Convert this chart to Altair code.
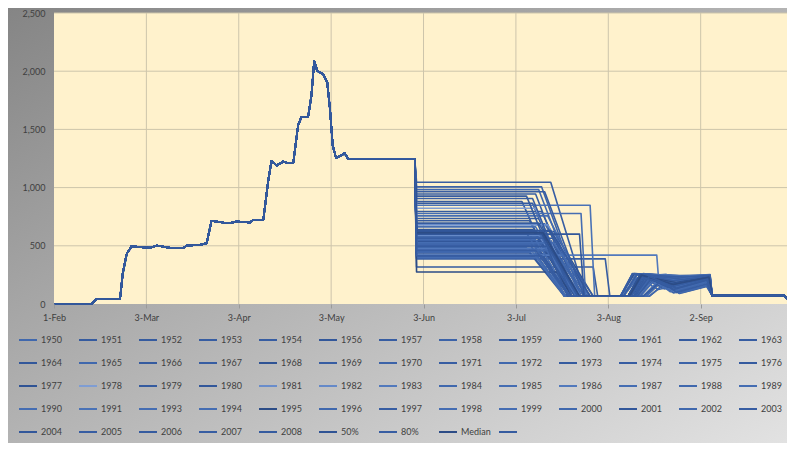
import altair as alt
import pandas as pd

# ---------------- data ----------------
# shared part of every series (days since 1-Feb, value)
COMMON_DAYS = [0, 12.4, 14.1, 21.8, 22.7, 24.0, 25.6, 31.7, 33.9, 38.3, 42.7, 43.9, 48.2, 50.4,
               52.0, 55.9, 58.1, 60.3, 64.7, 65.8, 69.1, 70.7, 71.8, 73.5, 75.7, 77.3, 79.0,
               80.6, 81.7, 83.9, 85.0, 85.9, 86.9, 88.9, 90.2, 91.1, 92.0, 93.1, 96.0, 97.1, 119.1]
COMMON_VALUES = [0, 0, 42, 45, 261, 431, 496, 482, 502, 482, 482, 502, 508, 523,
                 714, 700, 695, 709, 700, 723, 723, 1054, 1230, 1190, 1224, 1210, 1215,
                 1536, 1607, 1607, 1792, 2089, 2004, 1975, 1905, 1678, 1366, 1253, 1295, 1247, 1247]

SERIES = ["1950", "1951", "1952", "1953", "1954", "1956", "1957", "1958", "1959", "1960",
          "1961", "1962", "1963", "1964", "1965", "1966", "1967", "1968", "1969", "1970",
          "1971", "1972", "1973", "1974", "1975", "1976", "1977", "1978", "1979", "1980",
          "1981", "1982", "1983", "1984", "1985", "1986", "1987", "1988", "1989", "1990",
          "1991", "1993", "1994", "1995", "1996", "1997", "1998", "1999", "2000", "2001",
          "2002", "2003", "2004", "2005", "2006", "2007", "2008", "50%", "80%", "Median", " "]

PLATEAU_DAY = 119.7
LEVEL = [615, 880, 520, 465, 1046, 560, 735, 430, 600, 690,
         500, 318, 945, 575, 482, 795, 408, 640, 545, 1006,
         455, 585, 715, 388, 508, 865, 623, 822, 440, 535,
         680, 592, 420, 983, 553, 475, 757, 609, 398, 525,
         848, 663, 490, 275, 572, 907, 448, 777, 515, 630,
         458, 964, 600, 415, 695, 565, 927, 610, 460, 612, 495]
HOLD_END = [159, 154.5, 161, 162, 164, 158, 160, 163, 157, 162,
            159, 178, 159, 163, 156, 161, 164, 158, 164, 161,
            160, 162, 157, 182, 163, 158, 165, 159, 157, 161,
            163, 160, 199, 160, 159, 164, 163, 156, 160, 165,
            177, 159, 162, 166, 161, 158, 158, 174, 157, 164,
            165, 162, 173.5, 161, 160, 165, 156, 161, 159, 161.5, 163]
LOW_DAY = [173, 168.5, 171, 172, 175.5, 170, 173, 172, 170, 176,
           169, 179.5, 172, 175, 169, 174, 173, 171, 177, 174,
           170, 176, 171, 183.5, 174, 171, 178, 172, 168.5, 172,
           177, 173, 199.5, 173.5, 170.5, 174, 176.5, 169, 169, 177,
           178.5, 172.5, 172.5, 171, 173, 171, 168.5, 175.5, 168.5, 177,
           175, 175, 175, 170.5, 173.5, 178, 169.5, 173, 170, 173.5, 173]
LOW_VALUE = [66, 66, 66, 66, 68, 66, 66, 66, 66, 68,
             66, 68, 66, 66, 66, 66, 66, 66, 68, 66,
             66, 66, 66, 70, 66, 66, 68, 66, 66, 66,
             68, 66, 250, 66, 66, 66, 68, 66, 66, 68,
             68, 66, 66, 66, 66, 66, 66, 68, 66, 68,
             66, 66, 68, 66, 66, 68, 66, 66, 66, 66, 66]
RISE_DAY = [189.5, 187, 191.5, 188, 190.5, 192.5, 187, 194.5, 189.5, 191.5,
            193.5, 190.5, 188, 195.5, 187, 189.5, 196.5, 190.5, 192.5, 187,
            194.5, 188, 191.5, 191.5, 189.5, 192.5, 187, 193.5, 190.5, 191.5,
            188, 194.5, 200, 189.5, 195.5, 190.5, 187, 192.5, 193.5, 188,
            189.5, 194.5, 191.5, 189.5, 196.5, 190.5, 192.5, 188, 193.5, 189.5,
            191.5, 187, 190.5, 194.5, 191.5, 188, 192.5, 189.5, 190.5, 190, 191.5]
PEAK_DAY = [193.5, 191.5, 197.5, 192.5, 194.5, 198.5, 191, 199.5, 195.5, 194.5,
            198.5, 194.5, 192, 200.5, 192.5, 193.5, 201.5, 196.5, 195.5, 191.5,
            200.5, 193.5, 196.5, 196.5, 194.5, 197.5, 191.5, 198.5, 195.5, 197.5,
            192.5, 199.5, 202, 193.5, 200, 194.5, 191, 196.5, 197.5, 192.5,
            193.5, 199.5, 195.5, 193.5, 201.5, 194.5, 197.5, 192.5, 198.5, 193.5,
            196.5, 191, 194.5, 200.5, 195.5, 192.5, 197.5, 193.5, 194.5, 194, 196.5]
PEAK = [240, 255, 200, 250, 260, 230, 258, 180, 245, 262,
        210, 235, 252, 190, 225, 248, 170, 238, 255, 260,
        205, 250, 243, 220, 256, 235, 262, 215, 240, 228,
        258, 200, 255, 252, 185, 245, 262, 230, 220, 254,
        250, 195, 240, 248, 175, 253, 232, 256, 215, 250,
        238, 260, 245, 198, 242, 257, 226, 250, 240, 248, 236]
DIP_DAY = [201.5, 204.5, 205.5, 200.5, 207.5, 203.5, 206.5, 204.5, 202.5, 208.5,
           206.5, 201.5, 205.5, 207.5, 199.5, 203.5, 206.5, 204.5, 209.5, 206.5,
           205.5, 201.5, 204.5, 203.5, 207.5, 205.5, 208.5, 204.5, 202.5, 206.5,
           207.5, 205.5, 207.5, 204.5, 206.5, 201.5, 208.5, 204.5, 203.5, 206.5,
           203.5, 206.5, 202.5, 205.5, 207.5, 204.5, 203.5, 207.5, 205.5, 201.5,
           204.5, 207.5, 203.5, 205.5, 202.5, 208.5, 204.5, 204.5, 203.5, 204.5, 205.5]
DIP = [130, 180, 110, 150, 240, 120, 200, 95, 140, 220,
       100, 160, 210, 115, 125, 170, 90, 135, 230, 245,
       105, 155, 150, 120, 190, 140, 235, 115, 165, 125,
       215, 100, 180, 195, 110, 145, 240, 130, 105, 205,
       175, 95, 150, 185, 100, 200, 120, 225, 110, 160,
       140, 230, 155, 100, 145, 210, 125, 170, 150, 168, 135]
FALL_DAY = [216, 216.4, 215.6, 216.5, 216.5, 215.5, 216.4, 215.5, 216, 216.6,
            215.6, 216, 216.4, 215.5, 216, 216.4, 215.5, 215.8, 216.6, 216.5,
            215.5, 216.2, 216, 215.6, 216.4, 215.8, 216.6, 215.5, 216.2, 215.6,
            216.5, 215.5, 216.2, 216.4, 215.5, 216, 216.6, 215.8, 215.5, 216.5,
            216.2, 215.5, 216, 216.4, 215.5, 216.4, 215.6, 216.5, 215.5, 216,
            215.8, 216.5, 216, 215.5, 216, 216.5, 215.6, 216.2, 216, 216.2, 215.6]
FALL_VALUE = [220, 235, 200, 230, 240, 180, 250, 160, 225, 245,
              190, 230, 238, 170, 215, 232, 150, 210, 240, 248,
              185, 228, 222, 205, 236, 215, 250, 195, 232, 205,
              244, 175, 230, 240, 165, 225, 252, 212, 190, 238,
              230, 170, 222, 235, 155, 242, 200, 246, 185, 226,
              218, 246, 228, 172, 224, 242, 205, 232, 225, 230, 210]
END_DAYS = [217.3, 241.2, 242.0]
END_VALUES = [72, 72, 45]

COLORS = ["#4068ad", "#355b9f", "#355b9f", "#375da2", "#375da2", "#32579a", "#375da2", "#3c63a8", "#355b9f", "#4068ad",
          "#3c63a8", "#355b9f", "#375da2", "#32579a", "#4068ad", "#355b9f", "#375da2", "#2f5394", "#375da2", "#3c63a8",
          "#375da2", "#4068ad", "#355b9f", "#375da2", "#3c63a8", "#355b9f", "#2f5394", "#7f9dd3", "#355b9f", "#32579a",
          "#6a8dcb", "#6589c8", "#5279bc", "#4068ad", "#456db2", "#5279bc", "#456db2", "#4068ad", "#456db2", "#456db2",
          "#4a72b6", "#456db2", "#456db2", "#2c4c86", "#4068ad", "#375da2", "#456db2", "#456db2", "#4068ad", "#32579a",
          "#4068ad", "#375da2", "#32579a", "#375da2", "#355b9f", "#375da2", "#355b9f", "#2f5394", "#375da2", "#2c4c86",
          "#355b9f"]

TICK_DAYS = [0, 30.5, 61, 91.5, 122, 152.5, 183, 213.5]
TICK_LABELS = ["1-Feb", "3-Mar", "3-Apr", "3-May", "3-Jun", "3-Jul", "3-Aug", "2-Sep"]
Y_TICKS = [0, 500, 1000, 1500, 2000, 2500]

# ---------------- build table ----------------
rows = []
for i, name in enumerate(SERIES):
    pts = list(zip(COMMON_DAYS, COMMON_VALUES))
    pts += [(PLATEAU_DAY, LEVEL[i]), (HOLD_END[i], LEVEL[i]), (LOW_DAY[i], LOW_VALUE[i]),
            (RISE_DAY[i], LOW_VALUE[i]), (PEAK_DAY[i], PEAK[i]), (DIP_DAY[i], DIP[i]),
            (FALL_DAY[i], FALL_VALUE[i])]
    pts += list(zip(END_DAYS, END_VALUES))
    for k, (d, v) in enumerate(pts):
        rows.append({"series": name, "day": d, "value": v, "k": k})
df = pd.DataFrame(rows)

W, H = 733, 291
PAD_L, PAD_T, PAD_R, PAD_B = 46, 5, 0, 139
FONT = "Lato"
TXT = "#404040"

label_map = "{" + ",".join(f"'{d}':'{l}'" for d, l in zip(TICK_DAYS, TICK_LABELS)) + "}"
xscale = alt.Scale(domain=[0, 242], nice=False, zero=False)
yscale = alt.Scale(domain=[0, 2500], nice=False)
X_AXIS = alt.Axis(values=TICK_DAYS, labelExpr=f"{label_map}[datum.value]", title=None,
                  grid=False, domain=False, ticks=True, tickSize=4, tickColor="#9a9a9a",
                  labelFont=FONT, labelFontSize=9, labelColor=TXT, labelPadding=5,
                  labelFlush=False, labelOverlap=False, zindex=1)
Y_AXIS = alt.Axis(values=Y_TICKS, format=",.0f", title=None, grid=False, domain=False,
                  ticks=False, tickSize=0, labelFont=FONT, labelFontSize=9, labelColor=TXT,
                  labelPadding=9, zindex=1)

one = alt.Data(values=[{"a": 1}])

bg = alt.Chart(one).mark_rect(
    fill=alt.LinearGradient(gradient="linear", x1=0, y1=0, x2=1, y2=1,
                            stops=[alt.GradientStop(color="#858585", offset=0),
                                   alt.GradientStop(color="#e2e2e2", offset=1)])
).encode(x=alt.value(-PAD_L), x2=alt.value(W + PAD_R), y=alt.value(-PAD_T), y2=alt.value(H + PAD_B))

plotbg = alt.Chart(one).mark_rect(fill="#fff2cc").encode(
    x=alt.value(0), x2=alt.value(W), y=alt.value(0), y2=alt.value(H))

hgrid = alt.Chart(alt.Data(values=[{"v": v} for v in Y_TICKS[1:]])).mark_rule(
    color="#cdc5ab", strokeWidth=1).encode(y=alt.Y("v:Q", scale=yscale, axis=Y_AXIS))

vgrid = alt.Chart(alt.Data(values=[{"d": d} for d in TICK_DAYS[1:]])).mark_rule(
    color="#cdc5ab", strokeWidth=1).encode(x=alt.X("d:Q", scale=xscale, axis=X_AXIS))

lines = alt.Chart(df).mark_line(strokeWidth=1.6, strokeJoin="round").encode(
    x=alt.X("day:Q", scale=xscale, axis=X_AXIS),
    y=alt.Y("value:Q", scale=yscale, axis=Y_AXIS),
    order=alt.Order("k:Q"),
    color=alt.Color("series:N", scale=alt.Scale(domain=SERIES, range=COLORS),
                    legend=alt.Legend(orient="none", legendX=-36, legendY=317, columns=13,
                                      direction="horizontal",
                                      symbolType="stroke", symbolSize=324, symbolStrokeWidth=2,
                                      labelFont=FONT, labelFontSize=9, labelColor=TXT,
                                      labelOffset=3, title=None, gridAlign="all",
                                      columnPadding=4, rowPadding=8, padding=0,
                                      symbolLimit=100)),
)

chart = alt.layer(bg, plotbg, hgrid, vgrid, lines).properties(
    width=W, height=H,
    autosize=alt.AutoSizeParams(type="none"),
    padding={"left": PAD_L, "top": PAD_T, "right": PAD_R, "bottom": PAD_B},
).configure_view(stroke=None).configure(background="#ffffff")

chart.save("out.html", embed_options={"renderer": "svg", "actions": False})
